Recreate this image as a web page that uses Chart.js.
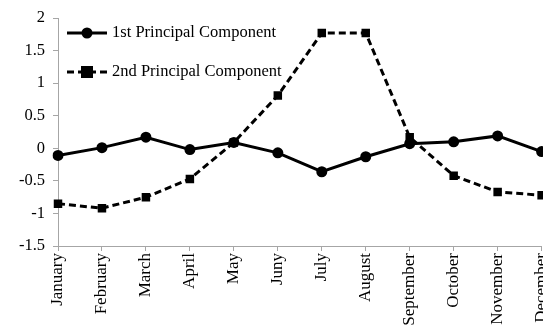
<!DOCTYPE html>
<html>
<head>
<meta charset="utf-8">
<script src="https://cdn.jsdelivr.net/npm/chart.js@4/dist/chart.umd.min.js"></script>
<style>
  html, body { margin: 0; padding: 0; background: #fff; overflow: hidden; }
  #wrap { width: 564px; height: 325px; }
</style>
</head>
<body>
<div id="wrap"><canvas id="c" width="564" height="325"></canvas></div>
<script>
// Monthly loadings of the first two principal components
const months = ['January', 'February', 'March', 'April', 'May', 'Juny', 'July',
                'August', 'September', 'October', 'November', 'December'];
const pc1 = [-0.11, 0.01, 0.17, -0.02, 0.09, -0.07, -0.36, -0.13, 0.07, 0.10, 0.19, -0.05];
const pc2 = [-0.85, -0.92, -0.75, -0.47, 0.09, 0.81, 1.77, 1.77, 0.17, -0.42, -0.67, -0.72];
const seriesNames = ['1st Principal Component', '2nd Principal Component'];
const yTicks = [-1.5, -1, -0.5, 0, 0.5, 1, 1.5, 2];

const serif = '"Liberation Serif", "Times New Roman", serif';

// Legend drawn inside the plot: a line sample with its marker, then the name
const insideLegend = {
  id: 'insideLegend',
  afterDraw(chart) {
    const ctx = chart.ctx;
    const x0 = chart.chartArea.left + 9;
    const rows = [33, 72];
    chart.data.datasets.forEach((ds, i) => {
      const y = rows[i];
      ctx.save();
      ctx.strokeStyle = ds.borderColor;
      ctx.lineWidth = ds.borderWidth;
      ctx.setLineDash(ds.borderDash || []);
      ctx.beginPath();
      ctx.moveTo(x0, y);
      ctx.lineTo(x0 + 40, y);
      ctx.stroke();
      ctx.setLineDash([]);
      ctx.fillStyle = ds.pointBackgroundColor;
      const r = ds.pointRadius;
      if (ds.pointStyle === 'rect') {
        ctx.fillRect(x0 + 20 - r, y - r, 2 * r, 2 * r);
      } else {
        ctx.beginPath();
        ctx.arc(x0 + 20, y, r, 0, Math.PI * 2);
        ctx.fill();
      }
      ctx.fillStyle = '#000';
      ctx.font = '16.5px ' + serif;
      ctx.textBaseline = 'middle';
      ctx.textAlign = 'left';
      ctx.fillText(ds.label, x0 + 45, y);
      ctx.restore();
    });
  }
};

new Chart(document.getElementById('c'), {
  type: 'line',
  data: {
    labels: months,
    datasets: [
      {
        label: seriesNames[0],
        data: pc1,
        borderColor: '#000',
        borderWidth: 3,
        pointStyle: 'circle',
        pointRadius: 5.5,
        pointBackgroundColor: '#000',
        pointBorderWidth: 0,
        tension: 0
      },
      {
        label: seriesNames[1],
        data: pc2,
        borderColor: '#000',
        borderWidth: 3,
        borderDash: [7, 4],
        pointStyle: 'rect',
        pointRadius: 6,
        pointBackgroundColor: '#000',
        pointBorderWidth: 0,
        tension: 0
      }
    ]
  },
  options: {
    responsive: false,
    animation: false,
    layout: { padding: { top: 18, right: 14, left: 0, bottom: 0 } },
    plugins: { legend: { display: false }, tooltip: { enabled: false } },
    scales: {
      x: {
        offset: false,
        grid: { display: true, drawOnChartArea: false, drawTicks: true, tickLength: 5, color: '#a6a6a6' },
        border: { color: '#a6a6a6', width: 1 },
        ticks: {
          color: '#000',
          font: { family: serif, size: 17 },
          minRotation: 90,
          maxRotation: 90,
          autoSkip: false,
          padding: 2
        },
        afterFit(scale) { scale.height = 79; }
      },
      y: {
        min: -1.5,
        max: 2,
        afterBuildTicks(scale) { scale.ticks = yTicks.map(v => ({ value: v })); },
        grid: { display: true, drawOnChartArea: false, drawTicks: true, tickLength: 5, color: '#a6a6a6' },
        border: { color: '#a6a6a6', width: 1 },
        ticks: {
          color: '#000',
          font: { family: serif, size: 16.5 },
          padding: 8,
          callback: (v) => String(v)
        },
        afterFit(scale) { scale.width = 58; }
      }
    }
  },
  plugins: [insideLegend]
});
</script>
</body>
</html>
